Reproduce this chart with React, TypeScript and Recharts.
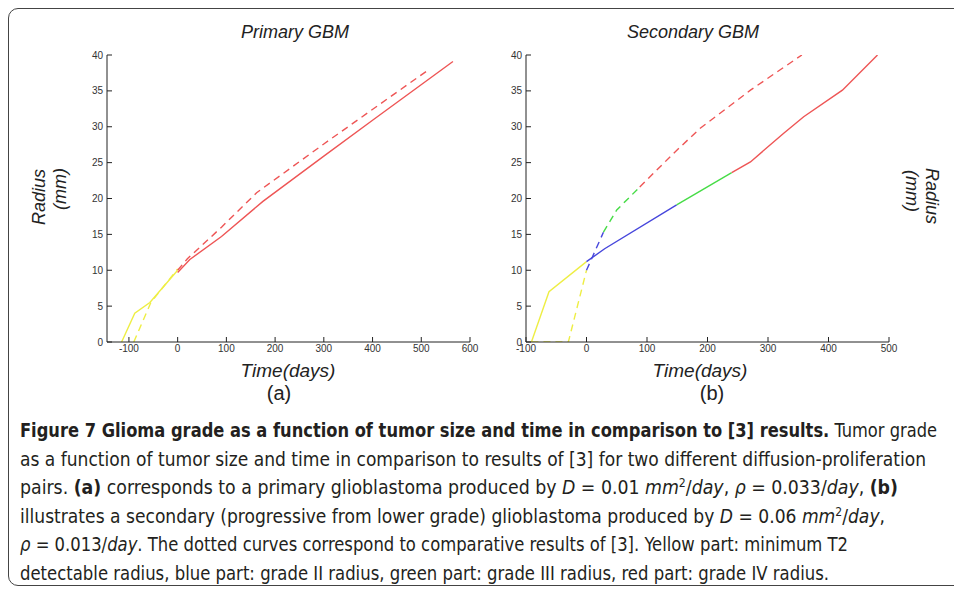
import React from "react";
import { LineChart, Line, XAxis, YAxis } from "recharts";

// (a) Primary GBM: time in days, radius in mm
const primYellowT = [-115, -88, -57, 0];
const primYellowR = [0, 4, 5.5, 10];
const primYellowDashT = [-90, -55, 0];
const primYellowDashR = [0, 5.5, 10.2];
const primRedT = [0, 25, 90, 175, 300, 400, 565];
const primRedR = [9.7, 11.5, 14.7, 19.6, 25.9, 30.9, 39.1];
const primRedDashT = [0, 20, 90, 162, 300, 410, 512];
const primRedDashR = [10, 11.6, 16, 20.8, 27.6, 32.9, 37.8];

// (b) Secondary GBM
const secYellowT = [-91, -62, 0];
const secYellowR = [0, 7, 11.2];
const secBlueT = [0, 30, 149];
const secBlueR = [11.2, 13, 19.1];
const secGreenT = [149, 240];
const secGreenR = [19.1, 23.6];
const secRedT = [240, 271, 326, 359, 423, 481];
const secRedR = [23.6, 25.1, 29.1, 31.4, 35.1, 40];
const secYellowDashT = [-91, -30, 0];
const secYellowDashR = [0, 0, 10];
const secBlueDashT = [0, 28];
const secBlueDashR = [10, 15.3];
const secGreenDashT = [28, 50, 88];
const secGreenDashR = [15.3, 18.4, 21.6];
const secRedDashT = [88, 144, 188, 232, 271, 309, 356];
const secRedDashR = [21.6, 26.3, 29.8, 32.6, 35.1, 37.3, 40];

const primTicks = [-100, 0, 100, 200, 300, 400, 500, 600];
const secTicks = [-100, 0, 100, 200, 300, 400, 500];
const radiusTicks = [0, 5, 10, 15, 20, 25, 30, 35, 40];

const YELLOW = "#eeee44";
const RED = "#ee5555";
const BLUE = "#4646dc";
const GREEN = "#46dc46";
const DASH = "7 5";

const pts = (t: number[], r: number[]) => t.map((x, i) => ({ t: x, r: r[i] }));

type Series = { t: number[]; r: number[]; color: string; dashed?: boolean };

const primSeries: Series[] = [
  { t: primYellowDashT, r: primYellowDashR, color: YELLOW, dashed: true },
  { t: primRedDashT, r: primRedDashR, color: RED, dashed: true },
  { t: primYellowT, r: primYellowR, color: YELLOW },
  { t: primRedT, r: primRedR, color: RED },
];

const secSeries: Series[] = [
  { t: secYellowDashT, r: secYellowDashR, color: YELLOW, dashed: true },
  { t: secBlueDashT, r: secBlueDashR, color: BLUE, dashed: true },
  { t: secGreenDashT, r: secGreenDashR, color: GREEN, dashed: true },
  { t: secRedDashT, r: secRedDashR, color: RED, dashed: true },
  { t: secYellowT, r: secYellowR, color: YELLOW },
  { t: secBlueT, r: secBlueR, color: BLUE },
  { t: secGreenT, r: secGreenR, color: GREEN },
  { t: secRedT, r: secRedR, color: RED },
];

const tickFont = { fontSize: 10, fill: "#333", fontFamily: "'Liberation Sans', Arial, sans-serif" };
const noLabel = () => <g />;

// plot area is 363 x 287, y axis gutter 30 px on the left
function Panel({ left, domain, ticks, series }: { left: number; domain: number[]; ticks: number[]; series: Series[] }) {
  return (
    <div style={{ position: "absolute", left, top: 47 }}>
      <LineChart width={407} height={315} margin={{ top: 8, right: 14, bottom: 0, left: 0 }}>
        <XAxis
          type="number"
          dataKey="t"
          domain={domain}
          ticks={ticks}
          interval={0}
          allowDataOverflow
          height={20}
          tickSize={-5}
          tickMargin={8}
          stroke="#222"
          tick={tickFont}
        />
        <XAxis
          xAxisId="top"
          orientation="top"
          type="number"
          dataKey="t"
          domain={domain}
          ticks={ticks}
          interval={0}
          allowDataOverflow
          height={0}
          tickSize={-5}
          stroke="#222"
          tick={noLabel}
        />
        <YAxis
          type="number"
          domain={[0, 40]}
          ticks={radiusTicks}
          interval={0}
          allowDataOverflow
          width={30}
          tickSize={-5}
          tickMargin={9}
          stroke="#222"
          tick={tickFont}
        />
        <YAxis
          yAxisId="right"
          orientation="right"
          type="number"
          domain={[0, 40]}
          ticks={radiusTicks}
          interval={0}
          allowDataOverflow
          width={0}
          tickSize={-5}
          stroke="#222"
          tick={noLabel}
        />
        {series.map((s, i) => (
          <Line
            key={i}
            data={pts(s.t, s.r)}
            dataKey="r"
            type="linear"
            stroke={s.color}
            strokeWidth={1.4}
            strokeDasharray={s.dashed ? DASH : undefined}
            dot={false}
            activeDot={false}
            isAnimationActive={false}
          />
        ))}
      </LineChart>
    </div>
  );
}

const plotFont = "'Liberation Sans', Arial, sans-serif";
const capFont = "'Liberation Sans Narrow', 'DejaVu Sans Condensed', sans-serif";

export default function App() {
  return (
    <div
      style={{
        position: "absolute",
        left: 0,
        top: 0,
        width: 954,
        height: 591,
        overflow: "hidden",
        background: "#fff",
      }}
    >
      <div
        style={{
          position: "absolute",
          left: 8,
          top: 8,
          width: 990,
          height: 576,
          border: "1.5px solid #444",
          borderRadius: 10,
        }}
      />
      <svg width={954} height={591} style={{ position: "absolute", left: 0, top: 0 }}>
        <g fontFamily={plotFont} fontStyle="italic" fill="#222" fontSize={18}>
          <text x={295} y={38} textAnchor="middle">Primary GBM</text>
          <text x={693} y={38} textAnchor="middle">Secondary GBM</text>
          <text transform="translate(45,197) rotate(-90)" textAnchor="middle">Radius</text>
          <text transform="translate(66,189) rotate(-90)" textAnchor="middle">(mm)</text>
          <text transform="translate(926,196) rotate(90)" textAnchor="middle">Radius</text>
          <text transform="translate(906,191) rotate(90)" textAnchor="middle">(mm)</text>
          <text x={288} y={377} textAnchor="middle" fontSize={19}>Time(days)</text>
          <text x={700} y={377} textAnchor="middle" fontSize={19}>Time(days)</text>
        </g>
        <g fontFamily={plotFont} fill="#222" fontSize={20}>
          <text x={279} y={400} textAnchor="middle">(a)</text>
          <text x={712} y={400} textAnchor="middle">(b)</text>
        </g>
        <g fontFamily={capFont} fill="#231f20" fontSize={19}>
          <text x={20} y={437} textLength={917} lengthAdjust="spacingAndGlyphs">
            <tspan fontWeight="bold">Figure 7 Glioma grade as a function of tumor size and time in comparison to [3] results.</tspan>
            <tspan> Tumor grade</tspan>
          </text>
          <text x={20} y={465.5} textLength={906} lengthAdjust="spacingAndGlyphs">
            as a function of tumor size and time in comparison to results of [3] for two different diffusion-proliferation
          </text>
          <text x={20} y={494} textLength={878} lengthAdjust="spacingAndGlyphs">
            <tspan>pairs. </tspan>
            <tspan fontWeight="bold">(a)</tspan>
            <tspan> corresponds to a primary glioblastoma produced by </tspan>
            <tspan fontStyle="italic">D</tspan>
            <tspan> = 0.01 </tspan>
            <tspan fontStyle="italic">mm</tspan>
            <tspan dy={-7} fontSize={12}>2</tspan>
            <tspan dy={7}>/</tspan>
            <tspan fontStyle="italic">day</tspan>
            <tspan>, </tspan>
            <tspan fontStyle="italic">ρ</tspan>
            <tspan> = 0.033/</tspan>
            <tspan fontStyle="italic">day</tspan>
            <tspan>, </tspan>
            <tspan fontWeight="bold">(b)</tspan>
          </text>
          <text x={20} y={522.5} textLength={865} lengthAdjust="spacingAndGlyphs">
            <tspan>illustrates a secondary (progressive from lower grade) glioblastoma produced by </tspan>
            <tspan fontStyle="italic">D</tspan>
            <tspan> = 0.06 </tspan>
            <tspan fontStyle="italic">mm</tspan>
            <tspan dy={-7} fontSize={12}>2</tspan>
            <tspan dy={7}>/</tspan>
            <tspan fontStyle="italic">day</tspan>
            <tspan>,</tspan>
          </text>
          <text x={20} y={551} textLength={828} lengthAdjust="spacingAndGlyphs">
            <tspan fontStyle="italic">ρ</tspan>
            <tspan> = 0.013/</tspan>
            <tspan fontStyle="italic">day</tspan>
            <tspan>. The dotted curves correspond to comparative results of [3]. Yellow part: minimum T2</tspan>
          </text>
          <text x={20} y={579.5} textLength={809} lengthAdjust="spacingAndGlyphs">
            detectable radius, blue part: grade II radius, green part: grade III radius, red part: grade IV radius.
          </text>
        </g>
      </svg>
      <Panel left={77} domain={[-145, 600]} ticks={primTicks} series={primSeries} />
      <Panel left={496} domain={[-100, 500]} ticks={secTicks} series={secSeries} />
    </div>
  );
}
